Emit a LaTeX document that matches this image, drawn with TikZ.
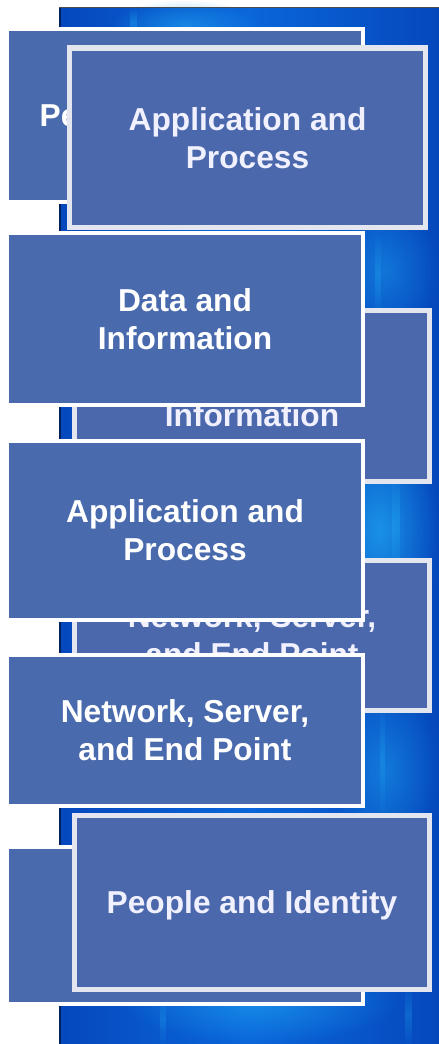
\documentclass[tikz,border=0pt]{standalone}
\usepackage{fontspec}
\setmainfont{Liberation Sans}
\usetikzlibrary{shadows,fadings}

\definecolor{boxblue}{HTML}{4A6AAE}
\definecolor{backblue}{HTML}{4A68AB}
\definecolor{rimgray}{HTML}{E3E6EF}
\definecolor{skydeep}{HTML}{0548BC}
\definecolor{skymid}{HTML}{0A66DA}
\definecolor{skylight}{HTML}{1FA2F0}
\definecolor{skyedge}{HTML}{02205E}

\tikzfading[name=softglow, inner color=transparent!0, outer color=transparent!100]
\tikzfading[name=vstreak, top color=transparent!100, bottom color=transparent!100,
  middle color=transparent!0]

\begin{document}
\begin{tikzpicture}[x=1pt,y=-1pt,
  label font/.style={font=\bfseries\fontsize{31.7}{38}\selectfont},
  frontbox/.style={draw=white, line width=4pt, fill=boxblue, text=white,
    label font, align=center, inner sep=0pt, minimum width=356pt},
  backbox/.style={draw=rimgray, line width=5.5pt, fill=backblue,
    text=white!94!blue, label font, align=center, inner sep=0pt,
    minimum width=355pt,
    drop shadow={opacity=0.25, shadow xshift=1pt, shadow yshift=-2.5pt}},
  oneline/.style={text depth=0pt},
  glow/.style={fill=skylight, path fading=softglow, fit fading=true},
  streak/.style={fill=skylight, path fading=vstreak, fit fading=true}
]
\useasboundingbox (0,0) rectangle (439,1044);
\fill[white] (0,0) rectangle (439,1044);

% blue backdrop panel
\shade[left color=skydeep, right color=skydeep, middle color=skymid]
  (59,7) rectangle (439,1044);
\fill[glow, opacity=0.8] (320,420) rectangle (439,640);
\fill[glow, opacity=0.45] (330,200) rectangle (439,340);
\fill[glow, opacity=0.5] (330,680) rectangle (439,860);
\fill[glow, opacity=0.6] (120,960) rectangle (400,1044);
\fill[glow, opacity=0.6] (110,0) rectangle (260,50);
\foreach \sx/\sy/\sw/\sh/\so in {375/230/6/90/0.35, 392/470/8/110/0.45,
    380/700/5/120/0.35, 405/980/7/70/0.3, 160/990/6/60/0.3, 130/8/7/30/0.4}
  \fill[streak, opacity=\so] (\sx,\sy) rectangle (\sx+\sw,\sy+\sh);
\fill[skyedge] (59,7) rectangle (61,1044);
\draw[black!70, line width=1pt] (59,7.5) -- (439,7.5);

% bottom layer of the left column
\node[frontbox, oneline, minimum height=173pt] (f1) at (185,115.5) {People and Identity};

% right column, behind the remaining left boxes
\node[backbox, minimum width=356pt, minimum height=179.5pt] (b1) at (247.5,137.75)
  {Application and\\Process};
\node[backbox, minimum height=171pt] (b2) at (252,396) {Data and\\Information};
\node[backbox, minimum height=150pt] (b3) at (252,635.5) {Network, Server,\\and End Point};

% left column, on top
\node[frontbox, minimum height=172pt] (f2) at (185,319) {Data and\\Information};
\node[frontbox, minimum height=179pt] (f3) at (185,530.5) {Application and\\Process};
\node[frontbox, minimum height=151pt] (f4) at (185,730.5) {Network, Server,\\and End Point};
\node[frontbox, minimum height=157pt] (f5) at (185,925.5) {};

% last right box, over the bottom left box
\node[backbox, oneline, minimum height=174pt] (b4) at (252,902.5) {People and Identity};
\end{tikzpicture}
\end{document}
